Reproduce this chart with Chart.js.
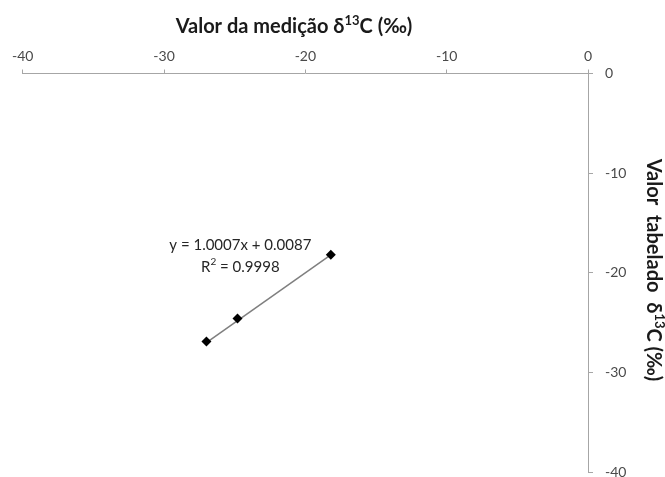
<!DOCTYPE html>
<html>
<head>
<meta charset="utf-8">
<script src="https://cdn.jsdelivr.net/npm/chart.js@4/dist/chart.umd.min.js"></script>
<style>
  html, body { margin: 0; padding: 0; background: #fff; }
  #wrap { width: 665px; height: 477px; }
</style>
</head>
<body>
<div id="wrap"><canvas id="c" width="665" height="477"></canvas></div>
<script>
// Measured δ13C values (x) against tabulated reference values (y), in ‰
const measured = [-27.0, -24.8, -18.2];
const tabulated = [-26.9, -24.6, -18.2];

// Linear fit reported for the calibration
const slope = 1.0007;
const intercept = 0.0087;
const fitLabel = [{ t: 'y = 1.0007x + 0.0087' }];
const r2Label = [{ t: 'R' }, { t: '2', sup: true }, { t: ' = 0.9998' }];

// Axis titles, split so the isotope mass number can be drawn as a superscript
const xTitle = [{ t: 'Valor da medição δ' }, { t: '13', sup: true }, { t: 'C (‰)' }];
const yTitle = [{ t: 'Valor  tabelado  δ' }, { t: '13', sup: true }, { t: 'C (‰)' }];
const axisMin = -40, axisMax = 0, axisStep = 10;

const points = measured.map((x, i) => ({ x, y: tabulated[i] }));
const xFitMin = Math.min(...measured), xFitMax = Math.max(...measured);
const fitLine = [xFitMin, xFitMax].map(x => ({ x, y: slope * x + intercept }));

const FONT = 'Lato, "Open Sans", sans-serif';

// Draws a run of text pieces centred on (x, y); superscript pieces are smaller and raised
function drawRich(ctx, parts, x, y, size, weight) {
  const full = `${weight} ${size}px ${FONT}`;
  const small = `${weight} ${Math.round(size * 0.65)}px ${FONT}`;
  let total = 0;
  const widths = parts.map(p => {
    ctx.font = p.sup ? small : full;
    const w = ctx.measureText(p.t).width;
    total += w;
    return w;
  });
  let cx = x - total / 2;
  ctx.textAlign = 'left';
  ctx.textBaseline = 'middle';
  parts.forEach((p, i) => {
    ctx.font = p.sup ? small : full;
    ctx.fillText(p.t, cx, p.sup ? y - size * 0.3 : y);
    cx += widths[i];
  });
}

const annotations = {
  id: 'annotations',
  afterDraw(chart) {
    const { ctx, scales } = chart;
    ctx.save();
    ctx.fillStyle = '#1a1a1a';
    drawRich(ctx, xTitle, 294, 27, 20, 'bold');
    ctx.save();
    ctx.translate(653, 270);
    ctx.rotate(Math.PI / 2);
    drawRich(ctx, yTitle, 0, 0, 20, 'bold');
    ctx.restore();

    ctx.fillStyle = '#262626';
    const cx = scales.x.getPixelForValue(-24.6);
    drawRich(ctx, fitLabel, cx, scales.y.getPixelForValue(-17.2), 15, 'normal');
    drawRich(ctx, r2Label, cx, scales.y.getPixelForValue(-19.4), 15, 'normal');
    ctx.restore();
  }
};

new Chart(document.getElementById('c'), {
  type: 'scatter',
  data: {
    datasets: [
      {
        type: 'line',
        data: fitLine,
        borderColor: '#7f7f7f',
        borderWidth: 1.5,
        pointRadius: 0,
        fill: false,
        order: 2
      },
      {
        data: points,
        pointStyle: 'rectRot',
        pointRadius: 5,
        pointBackgroundColor: '#000',
        pointBorderColor: '#000',
        pointBorderWidth: 0,
        order: 1
      }
    ]
  },
  options: {
    responsive: false,
    animation: false,
    layout: { padding: { left: 22.7, right: 0, top: 0, bottom: 2 } },
    plugins: { legend: { display: false }, tooltip: { enabled: false } },
    scales: {
      x: {
        type: 'linear',
        position: 'top',
        min: axisMin, max: axisMax,
        ticks: { stepSize: axisStep, color: '#4a4a4a', font: { family: FONT, size: 14 }, padding: 5, maxRotation: 0 },
        grid: { drawOnChartArea: false, tickLength: 4, color: '#a6a6a6' },
        border: { color: '#a6a6a6', width: 1 },
        afterFit(s) { s.height = 73.5; s.paddingLeft = 0; s.paddingRight = 0; }
      },
      y: {
        type: 'linear',
        position: 'right',
        min: axisMin, max: axisMax,
        ticks: { stepSize: axisStep, color: '#4a4a4a', font: { family: FONT, size: 14 }, padding: 12 },
        grid: { drawOnChartArea: false, tickLength: 5, color: '#a6a6a6' },
        border: { color: '#a6a6a6', width: 1 },
        afterFit(s) { s.width = 77; s.paddingTop = 0; s.paddingBottom = 0; }
      }
    }
  },
  plugins: [annotations]
});
</script>
</body>
</html>
